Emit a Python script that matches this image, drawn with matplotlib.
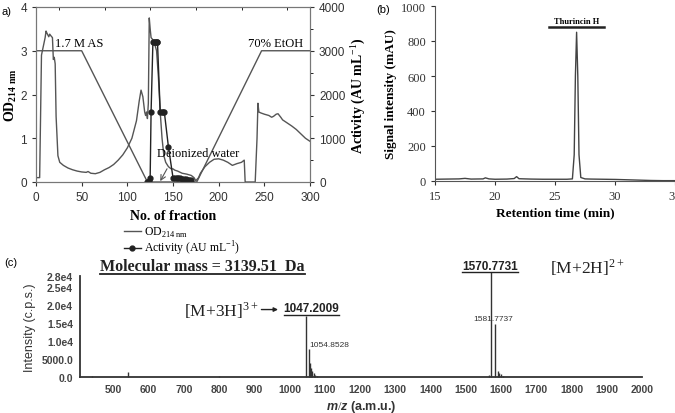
# -*- coding: utf-8 -*-
# Purifikasi thurincin H: (a) kromatografi, (b) HPLC, (c) spektrum massa
import matplotlib
matplotlib.use("Agg")
import matplotlib.pyplot as plt
from matplotlib.lines import Line2D

SERIF = ["Liberation Serif", "DejaVu Serif"]
SANS = ["Liberation Sans", "DejaVu Sans"]
plt.rcParams["font.family"] = SANS
plt.rcParams["mathtext.fontset"] = "custom"
plt.rcParams["mathtext.rm"] = "Liberation Serif"
plt.rcParams["mathtext.it"] = "Liberation Sans:italic:bold"
plt.rcParams["mathtext.bf"] = "Liberation Serif:bold"

# ---------------- data (a) ----------------
frac_od = [0, 3, 4, 5, 6, 8, 10, 11, 12, 14, 15, 16, 18, 19, 20, 21, 22, 24, 26,
           30, 35, 40, 45, 50, 55, 57, 60, 65, 70, 75, 80, 85, 90, 95, 100, 105,
           110, 113, 115, 117, 119, 120, 121, 122, 123, 124, 125, 126, 128, 130,
           132, 134, 136, 138, 140, 142, 145, 148, 150, 152, 155, 158, 160, 165,
           170, 173, 175, 178, 180, 185, 190, 195, 200, 205, 210, 215, 220, 225,
           228, 229, 230, 235, 240, 242, 243, 244, 246, 250, 255, 258, 260, 263,
           265, 268, 270, 275, 280, 285, 290, 295, 300]
od214 = [0.1, 0.1, 0.1, 1.5, 2.9, 3.1, 3.3, 3.45, 3.4, 3.32, 3.38, 3.35, 3.3,
         2.8, 2.85, 2.7, 1.5, 0.6, 0.45, 0.38, 0.32, 0.28, 0.25, 0.23, 0.22,
         0.24, 0.2, 0.19, 0.22, 0.28, 0.33, 0.4, 0.5, 0.62, 0.78, 1.0, 1.4, 1.85,
         2.1, 1.95, 1.6, 1.52, 1.6, 1.45, 1.8, 3.75, 3.5, 3.3, 3.25, 3.15, 3.0,
         2.4, 1.6, 1.0, 0.6, 0.45, 0.35, 0.3, 0.3, 0.27, 0.25, 0.22, 0.2, 0.18,
         0.15, 0.1, 0.03, 0.1, 0.2, 0.35, 0.45, 0.52, 0.53, 0.5, 0.45, 0.38,
         0.42, 0.45, 0.5, 0.0, 0.0, 0.0, 0.0, 1.0, 1.8, 1.6, 1.58, 1.55, 1.52,
         1.48, 1.5, 1.55, 1.56, 1.48, 1.42, 1.35, 1.28, 1.2, 1.1, 1.0, 0.93]

frac_act = [121, 123.5, 125, 126, 128, 129, 130, 131, 132, 133, 136, 137.5, 139,
            140.5, 145, 150, 152, 154, 156, 158, 160, 162, 164, 166, 168, 170]
activity = [0, 30, 100, 1600, 3200, 3200, 3200, 3200, 3200, 3200, 1600, 1600,
            1600, 1600, 800, 100, 100, 100, 100, 100, 80, 80, 60, 50, 50, 50]

frac_grad = [0, 50, 122, 176, 247, 300]
gradient = [3, 3, 0, 0, 3, 3]

# ---------------- data (b) ----------------
rt = [15, 16, 17, 17.5, 18, 19, 19.2, 19.5, 20, 21, 21.6, 21.8, 22, 23, 24, 25,
      26, 26.45, 26.6, 26.7, 26.8, 26.9, 27.0, 27.15, 27.5, 28, 29, 30, 31, 32,
      33, 34, 35]
signal = [10, 11, 12, 15, 11, 12, 18, 12, 10, 11, 14, 25, 13, 11, 10, 10, 10,
          12, 150, 600, 850, 600, 150, 20, 12, 11, 10, 9, 7, 5, 3, 2, 2]
thur_range = [24.5, 29.1]

# ---------------- data (c) ----------------
ms_mz = [440, 540, 800, 1047.2, 1054.85, 1058, 1061, 1064, 1068, 1072, 1078,
         1565, 1570.77, 1581.77, 1590, 1595, 1600, 1605]
ms_int = [400, 1500, 250, 16900, 7800, 3800, 2500, 1800, 1000, 600, 300,
          500, 29100, 14700, 1700, 1200, 700, 300]
ms_yticks = [0, 5000, 10000, 15000, 20000, 25000, 28000]
ms_ylabels = ["0.0", "5000.0", "1.0e4", "1.5e4", "2.0e4", "2.5e4", "2.8e4"]

W, H = 675, 414
fig = plt.figure(figsize=(W / 100, H / 100), dpi=100)


def box(l, t, r, b):
    return [l / W, 1 - b / H, (r - l) / W, (b - t) / H]


# ======================= (a) =======================
ax = fig.add_axes(box(36, 8, 310, 183))
ax.plot(frac_od, od214, color="#555555", lw=1.0)
ax.plot(frac_grad, gradient, color="#555555", lw=1.0)
ax.set_xlim(0, 300)
ax.set_ylim(0, 4)
ax.set_xticks(range(0, 301, 50))
ax.set_yticks(range(0, 5))
ax.set_xticks(range(25, 300, 50), minor=True)
ax.tick_params(labelsize=8.5, colors="#333333", direction="out", length=3)
ax.tick_params(axis="x", which="minor", top=True, bottom=False, direction="in",
               length=2)
for s in ax.spines.values():
    s.set_color("#777777")
ax.set_xlabel("No. of fraction", family=SERIF, fontweight="bold", fontsize=10,
              labelpad=4)
ax.set_ylabel(r"OD$_{\mathbf{214\ nm}}$", family=SERIF, fontweight="bold",
              fontsize=10, labelpad=1)

ax2 = ax.twinx()
ax2.plot(frac_act, activity, color="#222222", lw=1.0, marker="o", ms=3.5)
ax2.set_ylim(0, 4000)
ax2.set_yticks(range(0, 4001, 1000))
ax2.set_yticks(range(500, 4000, 1000), minor=True)
ax2.tick_params(labelsize=8.5, colors="#333333", direction="out", length=3)
ax2.tick_params(which="minor", length=2)
for s in ax2.spines.values():
    s.set_color("#777777")
ax2.set_ylabel(r"Activity (AU mL$^{-1}$)", family=SERIF, fontweight="bold",
               fontsize=10, labelpad=2)

ax.text(21, 3.03, "1.7 M AS", family=SERIF, fontsize=9, va="bottom")
ax.text(232, 3.03, "70% EtOH", family=SERIF, fontsize=9, va="bottom")
ax.annotate("Deionized water", xy=(136, 0.02), xytext=(133, 0.67),
            family=SERIF, fontsize=9, va="center",
            arrowprops=dict(arrowstyle="->", color="#555555", lw=0.8,
                            shrinkA=6, shrinkB=0, relpos=(0.2, 0.2)))
fig.text(2 / W, 1 - 12 / H, "a)", fontsize=8, va="center")

handles = [Line2D([], [], color="#555555", lw=1.0),
           Line2D([], [], color="#222222", lw=1.0, marker="o", ms=3.5)]
fig.legend(handles, [r"OD$_{214\ \mathrm{nm}}$", r"Activity (AU mL$^{-1}$)"],
           loc="upper left", bbox_to_anchor=(124 / W, 1 - 226 / H),
           frameon=False, prop={"family": SERIF, "size": 8.5},
           handlelength=1.4, handletextpad=0.3, labelspacing=0.0,
           borderaxespad=0, borderpad=0)

# ======================= (b) =======================
bx = fig.add_axes(box(435, 7, 675, 182))
bx.plot(rt, signal, color="#444444", lw=1.0)
bx.set_xlim(15, 35)
bx.set_ylim(0, 1000)
bx.set_xticks([15, 20, 25, 30, 35])
bx.set_yticks(range(0, 1001, 200))
bx.spines["top"].set_visible(False)
bx.spines["right"].set_visible(False)
for s in bx.spines.values():
    s.set_color("#555555")
bx.tick_params(length=3, colors="#333333", labelsize=9,
               labelfontfamily="Liberation Serif")
bx.set_xlabel("Retention time (min)", family=SERIF, fontweight="bold",
              fontsize=9.5, labelpad=3)
bx.set_ylabel("Signal intensity (mAU)", family=SERIF, fontweight="bold",
              fontsize=9.5, labelpad=3)
bx.plot(thur_range, [878, 878], color="#222222", lw=1.8, clip_on=False)
bx.text(sum(thur_range) / 2, 912, "Thurincin H", family=SERIF,
        fontweight="bold", fontsize=6, ha="center", va="center")
fig.text(376 / W, 1 - 10 / H, "(b)", fontsize=8, va="center")

# ======================= (c) =======================
cx = fig.add_axes(box(80, 277, 642, 378))
cx.vlines(ms_mz, 0, ms_int, color="#333333", lw=1.0, clip_on=False)
cx.set_xlim(405, 2000)
cx.set_ylim(0, 28000)
cx.set_xticks(range(500, 2001, 100))
cx.set_yticks(ms_yticks)
cx.set_yticklabels(ms_ylabels)
cx.spines["top"].set_visible(False)
cx.spines["right"].set_visible(False)
cx.spines["left"].set_color("#333333")
cx.spines["bottom"].set_color("#333333")
cx.spines["left"].set_linewidth(1.3)
cx.spines["bottom"].set_linewidth(1.3)
cx.tick_params(length=0, labelsize=7.5, colors="#444444", pad=5)
for lab in cx.get_xticklabels() + cx.get_yticklabels():
    lab.set_fontweight("bold")
cx.set_ylabel("Intensity (c.p.s.)", fontsize=9, color="#333333", labelpad=4)
cx.set_xlabel(r"$\mathit{m/z}$ (a.m.u.)", fontsize=9, fontweight="bold",
              color="#333333", labelpad=3)
fig.text(4 / W, 1 - 263 / H, "(c)", fontsize=8, va="center")

t_mass = cx.text(752, 30800, "Molecular mass = 3139.51  Da", family=SERIF,
                 fontweight="bold", fontsize=11.5, ha="center", va="center",
                 color="#222222")
t_m3 = cx.text(700, 18700, r"[M+3H]$^{3+}$", family=SERIF, fontsize=12.5,
               ha="left", va="center", color="#222222")
t_1047 = cx.text(1062, 19100, "1047.2009", fontweight="bold", fontsize=8.5,
                 ha="center", va="center", color="#222222")
t_1570 = cx.text(1568, 30900, "1570.7731", fontweight="bold", fontsize=8.5,
                 ha="center", va="center", color="#222222")
t_m2 = cx.text(1738, 30700, r"[M+2H]$^{2+}$", family=SERIF, fontsize=12.5,
               ha="left", va="center", color="#222222")
cx.text(1055, 8900, "1054.8528", fontsize=6, ha="left", va="center",
        color="#333333")
cx.text(1577, 16300, "1581.7737", fontsize=6, ha="center", va="center",
        color="#333333")
cx.annotate("", xy=(975, 18700), xytext=(912, 18700),
            arrowprops=dict(arrowstyle="-|>", color="#222222", lw=1.0,
                            mutation_scale=6))
cx.annotate("", xy=(1676, 30800), xytext=(1733, 30800),
            arrowprops=dict(arrowstyle="-|>", color="#222222", lw=1.0,
                            mutation_scale=6))

# underline for labelled texts
fig.canvas.draw()
rend = fig.canvas.get_renderer()
for t, lw in [(t_mass, 1.3), (t_1047, 1.0), (t_1570, 1.0)]:
    bb = t.get_window_extent(rend)
    y = (bb.y0 - 0.5) / fig.bbox.height
    fig.add_artist(Line2D([bb.x0 / fig.bbox.width, bb.x1 / fig.bbox.width],
                          [y, y], color="#222222", lw=lw))

fig.savefig("out.png", dpi=100)
